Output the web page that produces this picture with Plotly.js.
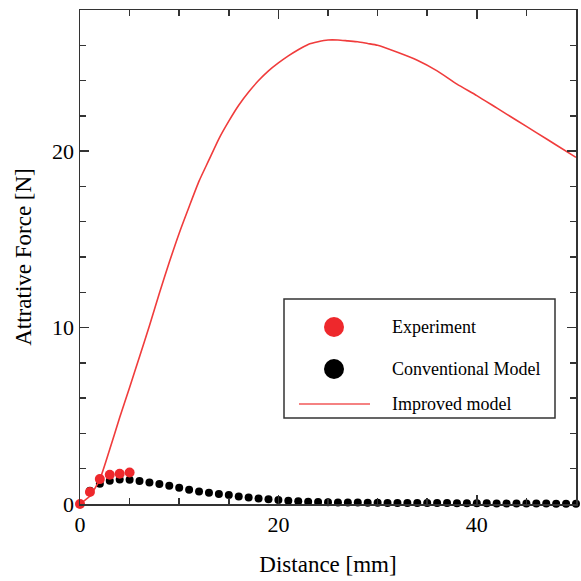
<!DOCTYPE html>
<html>
<head>
<meta charset="utf-8">
<script src="https://cdn.plot.ly/plotly-3.0.1.min.js"></script>
<style>html,body{margin:0;padding:0;background:#fff;}#chart{width:581px;height:581px;}</style>
</head>
<body>
<div id="chart"></div>
<script>
// Experiment (measured) values
var expX = [0, 1, 2, 3, 4, 5];
var expY = [0, 0.68, 1.41, 1.66, 1.71, 1.79];

// Conventional model
var convX = [0,1,2,3,4,5,6,7,8,9,10,11,12,13,14,15,16,17,18,19,20,21,22,23,24,25,26,27,28,29,30,31,32,33,34,35,36,37,38,39,40,41,42,43,44,45,46,47,48,49,50];
var convY = [0,0.75,1.15,1.32,1.39,1.37,1.30,1.22,1.13,1.04,0.92,0.81,0.71,0.64,0.57,0.51,0.43,0.37,0.31,0.27,0.22,0.18,0.15,0.13,0.11,0.10,0.09,0.08,0.08,0.07,0.07,0.06,0.06,0.06,0.05,0.05,0.05,0.05,0.04,0.04,0.04,0.04,0.03,0.03,0.03,0.03,0.03,0.03,0.02,0.02,0.02];

// Improved model
var impX = [0,1,2,3,4,5,6,7,8,9,10,11,12,13,14,15,16,17,18,19,20,21,22,23,24,25,26,27,28,29,30,32,34,36,38,40,42,44,46,48,50];
var impY = [0,0.45,1.4,3.1,4.9,6.6,8.35,10.1,11.95,13.7,15.35,16.85,18.3,19.5,20.7,21.7,22.6,23.35,24.0,24.55,25.0,25.4,25.75,26.05,26.2,26.3,26.3,26.25,26.2,26.1,26.0,25.6,25.15,24.55,23.8,23.15,22.45,21.75,21.05,20.35,19.65];

var xTicks = [0, 20, 40];
var yTicks = [0, 10, 20];
var legendNames = ['Experiment', 'Conventional Model', 'Improved model'];

var RED = 'rgb(238,40,44)';
var LINE_RED = 'rgb(240,60,60)';
var BLACK = '#000';
var FONT = '"Liberation Serif", "Times New Roman", serif';

var traces = [
  {x: convX, y: convY, type: 'scatter', mode: 'markers', name: legendNames[1],
   marker: {color: BLACK, size: 8}, cliponaxis: false},
  {x: impX, y: impY, type: 'scatter', mode: 'lines', name: legendNames[2],
   line: {color: LINE_RED, width: 1.6, shape: 'spline', smoothing: 0.6}},
  {x: expX, y: expY, type: 'scatter', mode: 'markers', name: legendNames[0],
   marker: {color: RED, size: 10}, cliponaxis: false}
];

// pixel -> paper helpers for the hand-built legend box
var L = 80, R = 576, T = 10, B = 504;
function px(x){ return (x - L) / (R - L); }
function py(y){ return (B - y) / (B - T); }

var shapes = [
  {type: 'rect', xref: 'paper', yref: 'paper', x0: px(284), x1: px(555), y0: py(418), y1: py(299),
   line: {color: '#333', width: 1.5}, fillcolor: 'rgba(255,255,255,0)'},
  {type: 'circle', xref: 'paper', yref: 'paper', x0: px(324), x1: px(344), y0: py(337), y1: py(317),
   line: {width: 0}, fillcolor: RED},
  {type: 'circle', xref: 'paper', yref: 'paper', x0: px(324), x1: px(344), y0: py(379), y1: py(359),
   line: {width: 0}, fillcolor: BLACK},
  {type: 'line', xref: 'paper', yref: 'paper', x0: px(299), x1: px(370), y0: py(404), y1: py(404),
   line: {color: 'rgb(245,130,130)', width: 2}}
];

var legY = [327, 369, 404];
var annotations = legendNames.map(function(n, i){
  return {xref: 'paper', yref: 'paper', x: px(390), y: py(legY[i]), xanchor: 'left', yanchor: 'middle',
          text: n, showarrow: false, font: {family: FONT, size: 18, color: '#000'}};
});

var axisCommon = {
  showgrid: false, zeroline: false, showline: true, linecolor: '#333', linewidth: 1.5,
  mirror: 'ticks', ticks: 'inside', ticklen: 9, tickwidth: 1.5, tickcolor: '#333',
  tickfont: {family: FONT, size: 22, color: '#000'}
};

var layout = {
  width: 581, height: 581,
  margin: {l: 80, r: 5, t: 10, b: 77},
  paper_bgcolor: '#fff', plot_bgcolor: '#fff',
  showlegend: false,
  xaxis: Object.assign({}, axisCommon, {
    range: [0, 50], tickvals: xTicks, ticktext: xTicks.map(String),
    minor: {dtick: 5, ticks: 'inside', ticklen: 6, tickwidth: 1.5, tickcolor: '#333', showgrid: false},
    title: {text: 'Distance [mm]', font: {family: FONT, size: 23, color: '#000'}, standoff: 20}
  }),
  yaxis: Object.assign({}, axisCommon, {
    range: [0, 28], tickvals: yTicks, ticktext: yTicks.map(String),
    minor: {dtick: 2, ticks: 'inside', ticklen: 6, tickwidth: 1.5, tickcolor: '#333', showgrid: false},
    title: {text: 'Attrative Force [N]', font: {family: FONT, size: 23, color: '#000'}, standoff: 14}
  }),
  shapes: shapes,
  annotations: annotations
};

Plotly.newPlot('chart', traces, layout, {displayModeBar: false, staticPlot: true});
</script>
</body>
</html>
